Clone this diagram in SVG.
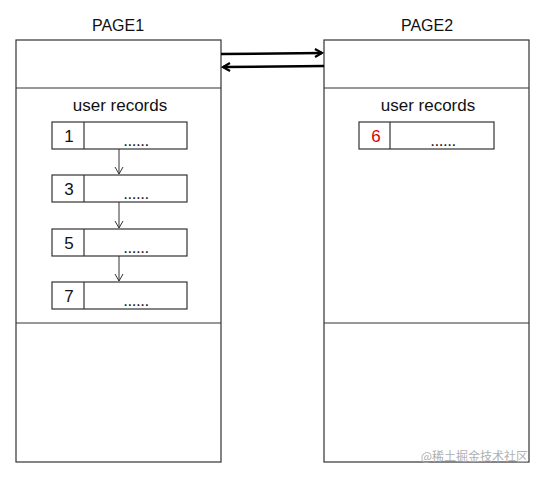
<svg xmlns="http://www.w3.org/2000/svg" width="543" height="477" viewBox="0 0 543 477">
<style>
.box{fill:#fff;stroke:#333;stroke-width:1.2}
.ln{stroke:#333;stroke-width:1.2;fill:none}
.t{font-family:"Liberation Sans",Arial,sans-serif;fill:#111;text-anchor:middle}
.dots{font-family:"Liberation Sans",Arial,sans-serif;fill:#222;font-size:17px;text-anchor:middle;letter-spacing:-0.5px}
.big{stroke:#000;stroke-width:2.5;fill:none}
.sm{stroke:#333;stroke-width:1;fill:none}
</style>
<defs>
<marker id="ah" markerWidth="10" markerHeight="10" refX="8" refY="5" orient="auto" markerUnits="userSpaceOnUse"><path d="M1,1 L8,5 L1,9" fill="none" stroke="#000" stroke-width="2.2"/></marker>
<marker id="as" markerWidth="10" markerHeight="10" refX="8" refY="5" orient="auto" markerUnits="userSpaceOnUse"><path d="M1,1 L8,5 L1,9" fill="none" stroke="#333" stroke-width="1"/></marker>
</defs>
<rect width="543" height="477" fill="#fff"/>
<g id="page1">
<text class="t" x="118" y="31" font-size="16">PAGE1</text>
<rect class="box" x="16" y="40" width="205" height="422"/>
<line class="ln" x1="16" y1="88" x2="221" y2="88"/>
<line class="ln" x1="16" y1="323" x2="221" y2="323"/>
<text class="t" x="120" y="111" font-size="17">user records</text>
</g>
<g id="rec1">
<rect class="box" x="52" y="122" width="135" height="27"/><line class="ln" x1="84" y1="122" x2="84" y2="149"/>
<text class="t" x="69" y="142" font-size="17">1</text><text class="dots" x="136" y="146">......</text>
</g>
<g id="rec3">
<rect class="box" x="52" y="175" width="135" height="27"/><line class="ln" x1="84" y1="175" x2="84" y2="202"/>
<text class="t" x="69" y="195" font-size="17">3</text><text class="dots" x="136" y="199">......</text>
</g>
<g id="rec5">
<rect class="box" x="52" y="229" width="135" height="27"/><line class="ln" x1="84" y1="229" x2="84" y2="256"/>
<text class="t" x="69" y="249" font-size="17">5</text><text class="dots" x="136" y="253">......</text>
</g>
<g id="rec7">
<rect class="box" x="52" y="282" width="135" height="27"/><line class="ln" x1="84" y1="282" x2="84" y2="309"/>
<text class="t" x="69" y="302" font-size="17">7</text><text class="dots" x="136" y="306">......</text>
</g>
<g id="page2">
<text class="t" x="427" y="31" font-size="16">PAGE2</text>
<rect class="box" x="324" y="40" width="205" height="422"/>
<line class="ln" x1="324" y1="88" x2="529" y2="88"/>
<line class="ln" x1="324" y1="323" x2="529" y2="323"/>
<text class="t" x="428" y="111" font-size="17">user records</text>
</g>
<g id="rec6">
<rect class="box" x="359" y="122" width="135" height="27"/><line class="ln" x1="390" y1="122" x2="390" y2="149"/>
<text class="t" x="376" y="142" font-size="17" style="fill:#d00">6</text><text class="dots" x="443" y="146">......</text>
</g>
<g id="connectors">
<line class="big" x1="221" y1="54" x2="322" y2="53" marker-end="url(#ah)"/>
<line class="big" x1="324" y1="66" x2="223" y2="67" marker-end="url(#ah)"/>
<line class="sm" x1="119" y1="149" x2="119" y2="174" marker-end="url(#as)"/>
<line class="sm" x1="119" y1="202" x2="119" y2="228" marker-end="url(#as)"/>
<line class="sm" x1="119" y1="256" x2="119" y2="281" marker-end="url(#as)"/>
</g>
<text x="528" y="461" font-family="'Noto Sans CJK SC',sans-serif" font-size="12" fill="#b0b0b0" text-anchor="end">@稀土掘金技术社区</text>
</svg>
